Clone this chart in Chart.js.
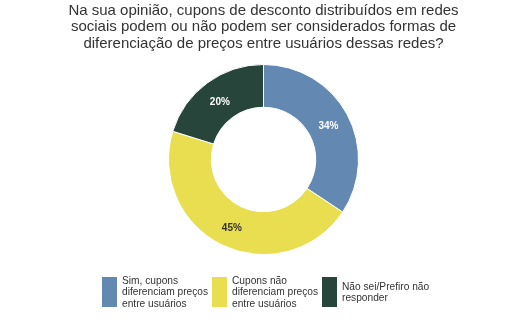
<!DOCTYPE html>
<html lang="pt-BR">
<head>
<meta charset="utf-8">
<title>Cupons de desconto</title>
<script src="https://cdn.jsdelivr.net/npm/chart.js@4"></script>
<style>
    html, body { margin: 0; padding: 0; background: #fff; }
    #wrap { position: relative; width: 521px; height: 330px; }
    #legend {
        position: absolute; top: 277px; left: 0; width: 521px; height: 30px;
        font-family: 'Liberation Sans', Arial, sans-serif; font-size: 10.2px;
        line-height: 11.2px; color: #333;
    }
    .item { position: absolute; top: 0; height: 30px; display: flex; align-items: center; }
    .box { width: 15px; height: 30px; margin-right: 5px; flex: none; }
</style>
</head>
<body>
<div id="wrap">
    <canvas id="couponChart" width="521" height="330"></canvas>
    <div id="legend"></div>
</div>
<script>
// Respostas (em %)
const categories = [
    ['Sim, cupons', 'diferenciam preços', 'entre usuários'],
    ['Cupons não', 'diferenciam preços', 'entre usuários'],
    ['Não sei/Prefiro não', 'responder']
];
const percentages = [34, 45, 20];
const sliceColors = ['#6389b3', '#e8de4f', '#27453a'];
const labelColors = ['#ffffff', '#333333', '#ffffff'];
const titleLines = [
    'Na sua opinião, cupons de desconto distribuídos em redes',
    'sociais podem ou não podem ser considerados formas de',
    'diferenciação de preços entre usuários dessas redes?'
];

// Write the percentage in the middle of each ring segment
const sliceLabels = {
    id: 'sliceLabels',
    afterDatasetsDraw(chart) {
        const ctx = chart.ctx;
        const meta = chart.getDatasetMeta(0);
        ctx.save();
        ctx.font = 'bold 10px "Liberation Sans", Arial, sans-serif';
        ctx.textAlign = 'center';
        ctx.textBaseline = 'middle';
        meta.data.forEach((arc, i) => {
            const pos = arc.tooltipPosition();
            ctx.fillStyle = labelColors[i];
            ctx.fillText(percentages[i] + '%', pos.x, pos.y + 2);
        });
        ctx.restore();
    }
};

const ctx = document.getElementById('couponChart').getContext('2d');
const couponChart = new Chart(ctx, {
    type: 'doughnut',
    data: {
        labels: categories.map(l => l.join(' ')),
        datasets: [{
            data: percentages,
            backgroundColor: sliceColors,
            borderColor: '#ffffff',
            borderWidth: 1,
            hoverOffset: 0
        }]
    },
    options: {
        responsive: false,
        animation: false,
        cutout: '55%',
        layout: { padding: { left: 6, bottom: 75 } },
        plugins: {
            legend: { display: false },
            tooltip: { enabled: false },
            title: {
                display: true,
                text: titleLines,
                color: '#333333',
                font: { family: '"Liberation Sans", Arial, sans-serif', size: 15, weight: 'normal', lineHeight: 1.1 },
                padding: { top: 2.5, bottom: 12 }
            }
        }
    },
    plugins: [sliceLabels]
});

// Legend below the chart, built from the same categories
const legendLeft = [102, 212, 322];
const legend = document.getElementById('legend');
categories.forEach((lines, i) => {
    const item = document.createElement('div');
    item.className = 'item';
    item.style.left = legendLeft[i] + 'px';
    const box = document.createElement('div');
    box.className = 'box';
    box.style.background = sliceColors[i];
    const text = document.createElement('div');
    text.innerHTML = lines.join('<br>');
    item.appendChild(box);
    item.appendChild(text);
    legend.appendChild(item);
});
</script>
</body>
</html>
